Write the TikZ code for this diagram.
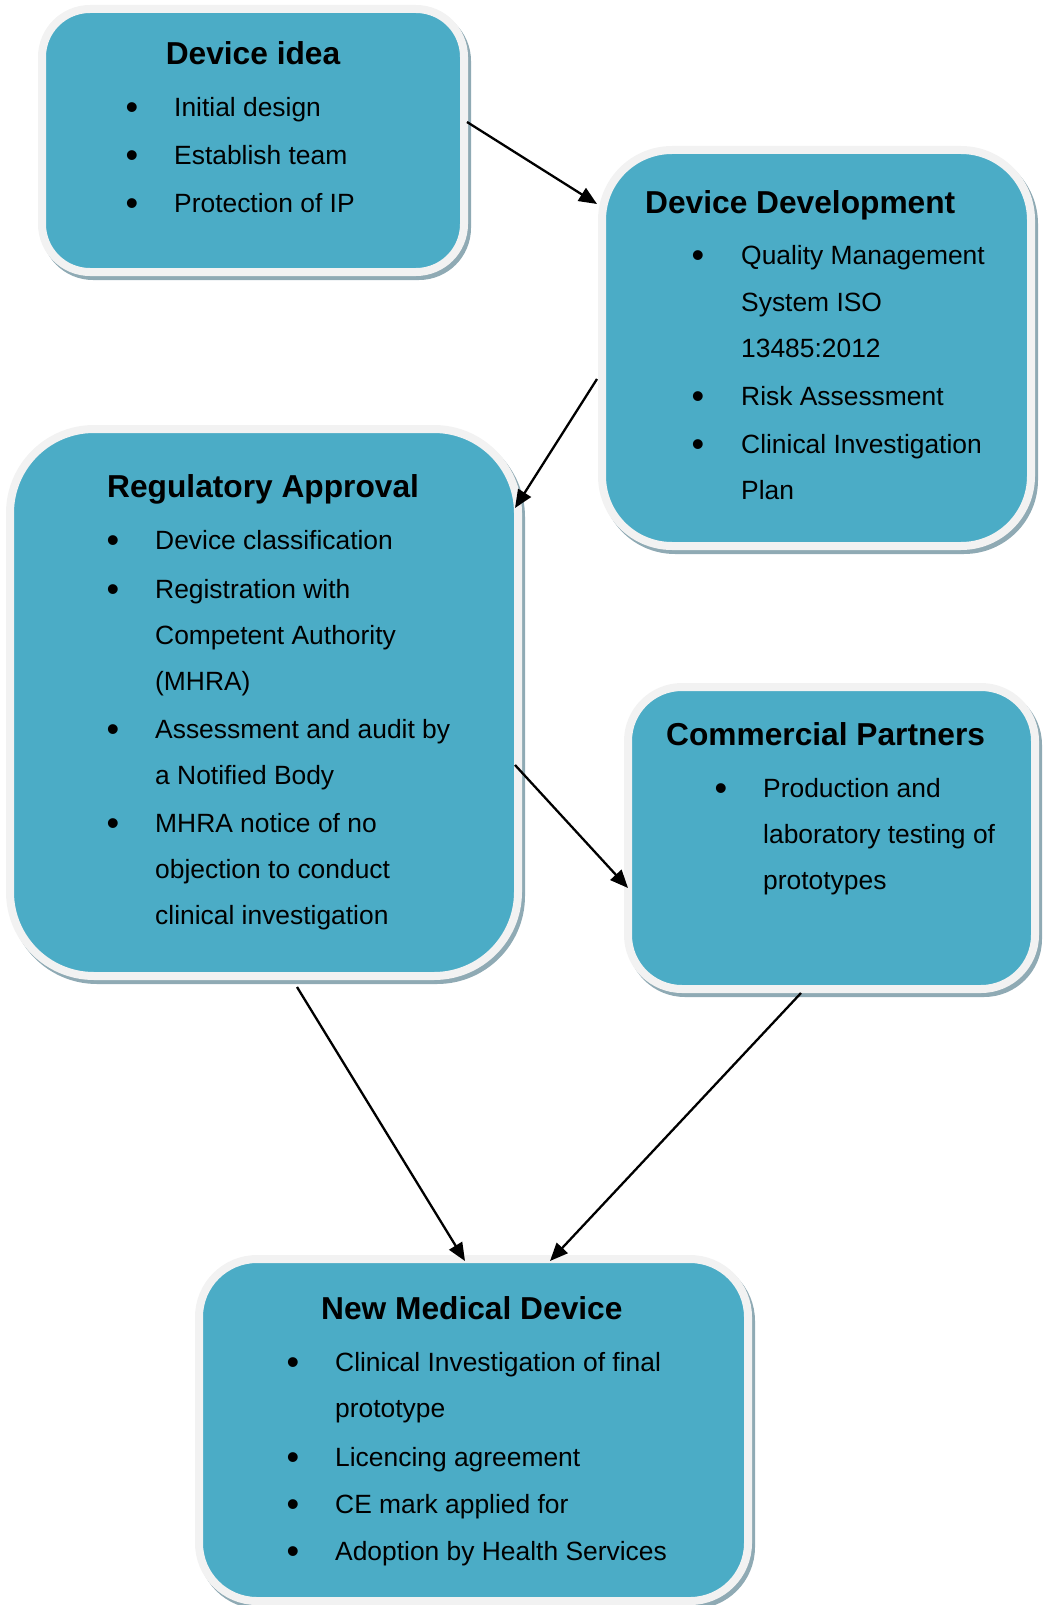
\documentclass[tikz,border=0pt]{standalone}
\usepackage{fontspec}
\setmainfont{Liberation Sans}
\usetikzlibrary{arrows.meta,calc}
\definecolor{boxblue}{HTML}{4BACC6}
\definecolor{rimgrey}{HTML}{F2F2F2}
\definecolor{shadowcol}{RGB}{143,170,180}
\begin{document}
\begin{tikzpicture}[x=1pt,y=-1pt,
  stage/.style={rectangle, draw=rimgrey, line width=8pt, fill=boxblue,
    rounded corners=#1, inner sep=0pt,
    preaction={draw=shadowcol, fill=shadowcol, line width=8pt,
      transform canvas={shift={(3pt,-4pt)}}}},
  stage/.default=50pt,
  head/.style={inner sep=0pt, anchor=base west, font=\bfseries\fontsize{31.7}{36}\selectfont},
  line/.style={inner sep=0pt, anchor=base west, font=\fontsize{26.4}{30}\selectfont},
  dot/.style={inner sep=0pt, anchor=base, yshift=-3pt, font=\fontsize{36}{40}\selectfont},
  flow/.style={-{Triangle[length=18pt,width=15pt]}, line width=2.3pt, black}]
\useasboundingbox (0,0) rectangle (1042,1605);

% stage boxes
\node[stage=48pt, minimum width=422pt, minimum height=263pt] (idea) at (253,140.5) {};
\node[stage=70pt, minimum width=429pt, minimum height=396pt] (dev) at (816.5,348) {};
\node[stage=84pt, minimum width=508pt, minimum height=547pt] (reg) at (264,702.5) {};
\node[stage=54pt, minimum width=407pt, minimum height=302pt] (com) at (831.5,838) {};
\node[stage=58pt, minimum width=549pt, minimum height=342pt] (nmd) at (473.5,1430) {};

% Device idea
\node[head, anchor=base] (ideaT) at (253,65) {Device idea};
\node[dot] (ideaB1) at (132,117) {\textbullet};
\node[line] (ideaL1) at (174,117) {Initial design};
\node[dot] (ideaB2) at (132,165) {\textbullet};
\node[line] (ideaL2) at (174,165) {Establish team};
\node[dot] (ideaB3) at (132,213) {\textbullet};
\node[line] (ideaL3) at (174,213) {Protection of IP};

% Device Development
\node[head] (devT) at (645,214) {Device Development};
\node[dot] (devB1) at (698,265) {\textbullet};
\node[line] (devL1) at (741,265) {Quality Management};
\node[line] (devL2) at (741,311) {System ISO};
\node[line] (devL3) at (741,357) {13485:2012};
\node[dot] (devB2) at (698,405) {\textbullet};
\node[line] (devL4) at (741,405) {Risk Assessment};
\node[dot] (devB3) at (698,453) {\textbullet};
\node[line] (devL5) at (741,453) {Clinical Investigation};
\node[line] (devL6) at (741,499) {Plan};

% Regulatory Approval
\node[head] (regT) at (107,497) {Regulatory Approval};
\node[dot] (regB1) at (113,549) {\textbullet};
\node[line] (regL1) at (155,549) {Device classification};
\node[dot] (regB2) at (113,598) {\textbullet};
\node[line] (regL2) at (155,598) {Registration with};
\node[line] (regL3) at (155,644) {Competent Authority};
\node[line] (regL4) at (155,690) {(MHRA)};
\node[dot] (regB3) at (113,738) {\textbullet};
\node[line] (regL5) at (155,738) {Assessment and audit by};
\node[line] (regL6) at (155,784) {a Notified Body};
\node[dot] (regB4) at (113,832) {\textbullet};
\node[line] (regL7) at (155,832) {MHRA notice of no};
\node[line] (regL8) at (155,878) {objection to conduct};
\node[line] (regL9) at (155,924) {clinical investigation};

% Commercial Partners
\node[head] (comT) at (666,745) {Commercial Partners};
\node[dot] (comB1) at (721,797) {\textbullet};
\node[line] (comL1) at (763,797) {Production and};
\node[line] (comL2) at (763,843) {laboratory testing of};
\node[line] (comL3) at (763,889) {prototypes};

% New Medical Device
\node[head] (nmdT) at (321,1319) {New Medical Device};
\node[dot] (nmdB1) at (293,1371) {\textbullet};
\node[line] (nmdL1) at (335,1371) {Clinical Investigation of final};
\node[line] (nmdL2) at (335,1417) {prototype};
\node[dot] (nmdB2) at (293,1466) {\textbullet};
\node[line] (nmdL3) at (335,1466) {Licencing agreement};
\node[dot] (nmdB3) at (293,1513) {\textbullet};
\node[line] (nmdL4) at (335,1513) {CE mark applied for};
\node[dot] (nmdB4) at (293,1560) {\textbullet};
\node[line] (nmdL5) at (335,1560) {Adoption by Health Services};

% connectors
\draw[flow] ($(idea.east)+(-1,-18.5)$) -- ($(dev.west)+(-1,-144)$);
\draw[flow] ($(dev.west)+(-1,31)$) -- ($(reg.north east)+(-7,83)$);
\draw[flow] ($(reg.east)+(-7,62.5)$) -- ($(com.west)+(4,50)$);
\draw[flow] ($(reg.south)+(33,7)$) -- ($(nmd.north)+(-8.5,6)$);
\draw[flow] ($(com.south)+(-30.5,0)$) -- ($(nmd.north)+(76.5,6)$);
\end{tikzpicture}
\end{document}
